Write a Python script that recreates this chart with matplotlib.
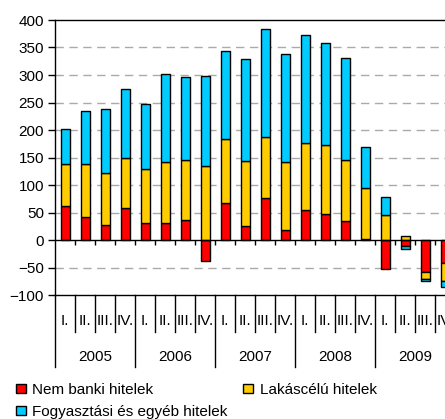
import numpy as np
import matplotlib.pyplot as plt
import matplotlib.transforms as mtransforms
from matplotlib.patches import Patch

plt.rcParams['font.family'] = ['Liberation Sans', 'DejaVu Sans']

# 2005 Q1 .. 2009 Q4, billion HUF
years = ['2005', '2006', '2007', '2008', '2009']
quarters = ['I.', 'II.', 'III.', 'IV.']
nem_banki = [61, 42, 27, 59, 31, 31, 36, -39, 68, 25, 76, 19, 54, 48, 35, 1, -53, -10, -59, -41]
lakascelu = [78, 97, 95, 91, 99, 111, 109, 135, 116, 119, 112, 123, 122, 125, 110, 94, 45, 8, -11, -34]
fogyasztasi = [63, 96, 117, 125, 117, 159, 151, 164, 160, 186, 196, 197, 197, 186, 186, 74, 34, -6, -5, -10]

labels = ['Nem banki hitelek', 'Lakáscélú hitelek', 'Fogyasztási és egyéb hitelek']
colors = ['#ff0000', '#ffcc00', '#00ccff']

W, H = 445, 419
fig = plt.figure(figsize=(W / 100, H / 100), dpi=100)
ax = fig.add_axes([55 / W, (H - 295) / H, 400 / W, 275 / H])

x = np.arange(len(nem_banki))
pos_base = np.zeros(len(x))
neg_base = np.zeros(len(x))
for vals, c in zip([nem_banki, lakascelu, fogyasztasi], colors):
    v = np.array(vals, dtype=float)
    base = np.where(v >= 0, pos_base, neg_base)
    ax.bar(x, v, 0.45, bottom=base, color=c, edgecolor='black', linewidth=1, zorder=3)
    pos_base += np.where(v >= 0, v, 0)
    neg_base += np.where(v < 0, v, 0)

ax.set_xlim(-0.5, 19.5)
ax.set_ylim(-100, 400)
ax.set_yticks(np.arange(-100, 401, 50))
ax.tick_params(axis='y', length=5, width=1, labelsize=11, colors='black', pad=3)
ax.set_xticks([])
for y in range(-50, 400, 50):
    if y != 0:
        ax.axhline(y, color='#aaaaaa', lw=1, ls=(0, (6, 4)), zorder=1)
ax.axhline(0, color='black', lw=1, zorder=4)
ax.vlines(np.arange(0.5, 19.5, 1), -9, 0, color='black', lw=1, zorder=4)

for s in ['top', 'bottom', 'left']:
    ax.spines[s].set_linewidth(1)
ax.spines['right'].set_visible(False)

# category table below the plot
tr = mtransforms.blended_transform_factory(ax.transData, ax.transAxes)
for b in np.arange(0.5, 19.5, 1):
    if (b + 0.5) % 4 == 0:
        ax.plot([b, b], [0, -0.262], transform=tr, color='black', lw=1, clip_on=False)
    else:
        ax.plot([b, b], [0, -0.1345], transform=tr, color='black', lw=1, clip_on=False)
ax.plot([-0.5, -0.5], [0, -0.262], transform=tr, color='black', lw=1, clip_on=False)
for i in range(len(x)):
    ax.text(i, -0.094, quarters[i % 4], transform=tr, ha='center', va='center', fontsize=11, clip_on=False)
for j, yr in enumerate(years):
    ax.text(4 * j + 1.5, -0.2255, yr, transform=tr, ha='center', va='center', fontsize=11, clip_on=False)

handles = [Patch(facecolor=c, edgecolor='black', linewidth=1) for c in colors]
order = [0, 2, 1]
fig.legend([handles[k] for k in order], [labels[k] for k in order], ncol=2,
           loc='upper left', bbox_to_anchor=(16 / W, 1 - 383 / H), frameon=False,
           fontsize=11, handlelength=0.65, handleheight=0.55, handletextpad=0.4,
           columnspacing=1.05, labelspacing=0.53, borderpad=0, borderaxespad=0)

fig.savefig('out.png', dpi=100)
